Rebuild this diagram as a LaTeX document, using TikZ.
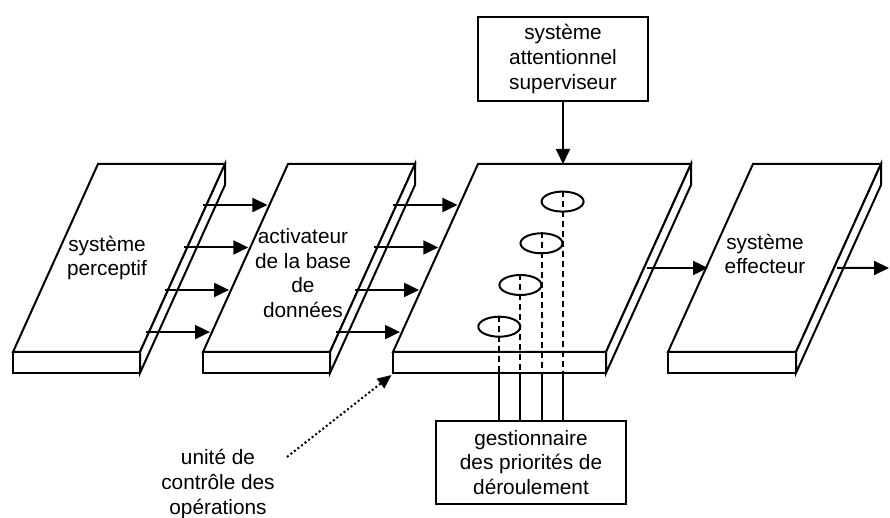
\documentclass[tikz,border=0pt]{standalone}
\usepackage{fontspec}
\setmainfont{Liberation Sans}
\usepackage{tikz}
\usetikzlibrary{positioning, arrows.meta, shapes.geometric, calc}
\newcommand{\Slab}[3]{%
    \coordinate (#1-fl) at (#2,352);
    \coordinate (#1-fr) at (#2+#3,352);
    \coordinate (#1-fb) at (#2,373);
    \coordinate (#1-bl) at (#2+85,164);
    \coordinate (#1-br) at (#2+#3+85,164);
    \draw[slab] (#1-fl) -- (#1-bl) -- (#1-br) -- (#1-fr) -- cycle;
    \draw[slab] (#1-fl) rectangle ($(#1-fr)+(0,21)$);
    \draw[slab] (#1-fr) -- (#1-br) -- ++(0,21) -- ($(#1-fr)+(0,21)$) -- cycle;
}
\tikzset{
    slab/.style={draw, fill=white, line width=1pt},
    flow/.style={line width=1pt, -{Triangle[length=7.5pt, width=7pt]}},
    box/.style={draw, line width=1pt, align=center, inner sep=0pt},
    lbl/.style={align=center, inner sep=0pt},
    ellip/.style={ellipse, draw, line width=1pt, minimum width=21pt, minimum height=10pt, inner sep=0pt},
    guide/.style={line width=1pt, dash pattern=on 3pt off 2pt},
    hint/.style={line width=1pt, dash pattern=on 1pt off 1.25pt, -{Triangle[length=7pt, width=6pt]}},
}
\begin{document}
\begin{tikzpicture}[x=0.5pt, y=-0.5pt]
    \tikzset{every node/.append style={font=\fontsize{10.4}{12.4}\selectfont}}
    \useasboundingbox (0,0) rectangle (890,518);

    \Slab{s1}{13}{127}
    \Slab{s2}{203}{127}
    \Slab{s3}{393}{213}
    \Slab{s4}{668}{128}

    \node[lbl] (percept) at (107,258) {système\\perceptif};
    \node[lbl] (activ) at (303,273) {activateur\\de la base\\de\\données};
    \node[lbl] (effect) at (765,254) {système\\effecteur};

    \node[box, minimum width=84.7pt, minimum height=42pt] (sas) at (563,59) {système\\attentionnel\\superviseur};
    \node[box, minimum width=95pt, minimum height=41.5pt] (gest) at (531,462.5) {gestionnaire\\des priorités de\\déroulement};
    \node[lbl] (unite) at (218,484) {unité de\\contrôle des\\opérations};

    \foreach \t in {0.106,0.33,0.556,0.782} {
        \draw[flow] ($(s2-fl)!\t!(s2-bl)+(-66,0)$) -- ($(s2-fl)!\t!(s2-bl)+(-2,0)$);
        \draw[flow] ($(s3-fl)!\t!(s3-bl)+(-66,0)$) -- ($(s3-fl)!\t!(s3-bl)+(-2,0)$);
    }
    \draw[flow] ($(s3-fr)!0.447!(s3-br)+(3,0)$) -- ($(s4-fl)!0.447!(s4-bl)+(2,0)$);
    \coordinate (out) at (889,268);
    \draw[flow] ($(s4-fr)!0.447!(s4-br)+(3,0)$) -- (out);
    \draw[flow] (sas) -- (sas.south |- s3-bl);

    \foreach \i in {0,...,3} {
        \node[ellip] (p\i) at (499.3+21.1*\i, 326.7-41.7*\i) {};
        \draw[guide] (p\i.north) -- (p\i.north |- s3-fb);
        \draw[line width=1pt] (p\i.north |- s3-fb) -- (p\i.north |- gest.north);
    }

    \coordinate (hintfrom) at (287,457);
    \draw[hint] (hintfrom) -- ($(s3-fb)+(-1.5,2)$);
\end{tikzpicture}
\end{document}
